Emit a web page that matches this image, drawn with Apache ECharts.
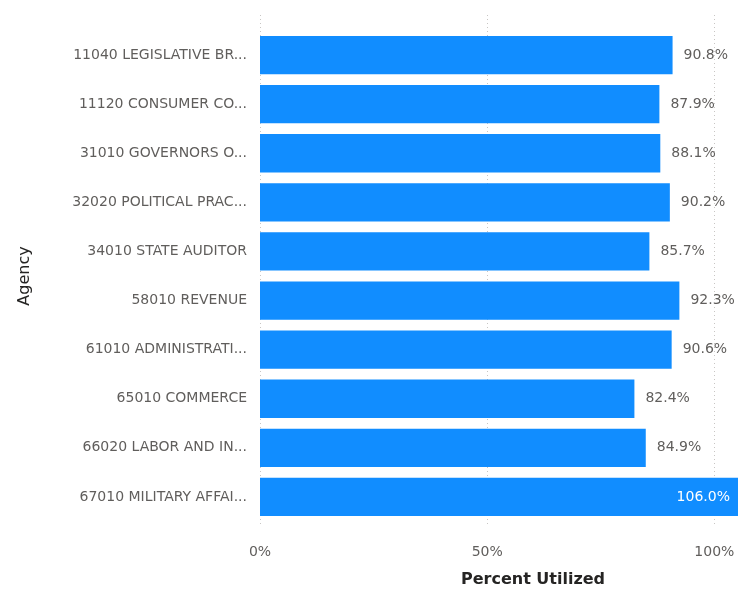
<!DOCTYPE html>
<html>
<head>
<meta charset="utf-8">
<script src="https://cdn.jsdelivr.net/npm/echarts@6/dist/echarts.min.js"></script>
<style>
html,body{margin:0;padding:0;background:#fff;}
#c{width:738px;height:589px;}
</style>
</head>
<body>
<div id="c"></div>
<script>
const categories = [
  "11040 LEGISLATIVE BR...",
  "11120 CONSUMER CO...",
  "31010 GOVERNORS O...",
  "32020 POLITICAL PRAC...",
  "34010 STATE AUDITOR",
  "58010 REVENUE",
  "61010 ADMINISTRATI...",
  "65010 COMMERCE",
  "66020 LABOR AND IN...",
  "67010 MILITARY AFFAI..."
];
const percentUtilized = [90.8, 87.9, 88.1, 90.2, 85.7, 92.3, 90.6, 82.4, 84.9, 106.0];
const xTicks = [0, 50, 100];

const axisMax = 105.2;
const labelFont = "'DejaVu Sans', 'Noto Sans', sans-serif";

const chart = echarts.init(document.getElementById('c'), null, {renderer: 'canvas'});
chart.setOption({
  animation: false,
  grid: [
    {left: 260, right: 0, top: 30.5, bottom: 67.5, containLabel: false, outerBoundsMode: 'none'},
    {left: 260, right: 0, top: 15, bottom: 62, containLabel: false, outerBoundsMode: 'none'}
  ],
  xAxis: [
    {
      type: 'value', gridIndex: 0, min: 0, max: axisMax, interval: 50,
      axisLine: {show: false}, axisTick: {show: false},
      splitLine: {show: false},
      axisLabel: {
        showMaxLabel: false, margin: 24,
        color: '#605E5C', fontSize: 14, fontFamily: labelFont,
        formatter: v => xTicks.includes(v) ? v + '%' : ''
      },
      name: 'Percent Utilized', nameLocation: 'middle', nameGap: 50,
      nameTextStyle: {color: '#252423', fontSize: 16, fontWeight: 'bold', fontFamily: labelFont, padding: [0, 0, 0, 68]}
    },
    {
      type: 'value', gridIndex: 1, min: 0, max: axisMax, interval: 50,
      axisLine: {show: false}, axisTick: {show: false}, axisLabel: {show: false},
      splitLine: {show: true, lineStyle: {color: '#C8C6C4', type: [1, 3], width: 1}}
    }
  ],
  yAxis: [
    {
      type: 'category', gridIndex: 0, data: categories, inverse: true,
      axisLine: {show: false}, axisTick: {show: false},
      axisLabel: {margin: 13, color: '#605E5C', fontSize: 14, fontFamily: labelFont},
      name: 'Agency', nameLocation: 'middle', nameGap: 227, nameRotate: 90,
      nameTextStyle: {color: '#252423', fontSize: 16, fontFamily: labelFont}
    },
    {
      type: 'category', gridIndex: 1, data: categories, inverse: true, show: false
    }
  ],
  series: [{
    type: 'bar', xAxisIndex: 0, yAxisIndex: 0,
    data: percentUtilized.map(v => v > axisMax ? {
      value: v,
      label: {position: 'insideRight', color: '#FFFFFF', distance: 8}
    } : v),
    barCategoryGap: '22%',
    clip: true,
    itemStyle: {color: '#118DFF'},
    label: {
      show: true, position: 'right', distance: 11,
      color: '#605E5C', fontSize: 14, fontFamily: labelFont,
      formatter: p => p.value.toFixed(1) + '%'
    }
  }]
});
</script>
</body>
</html>
